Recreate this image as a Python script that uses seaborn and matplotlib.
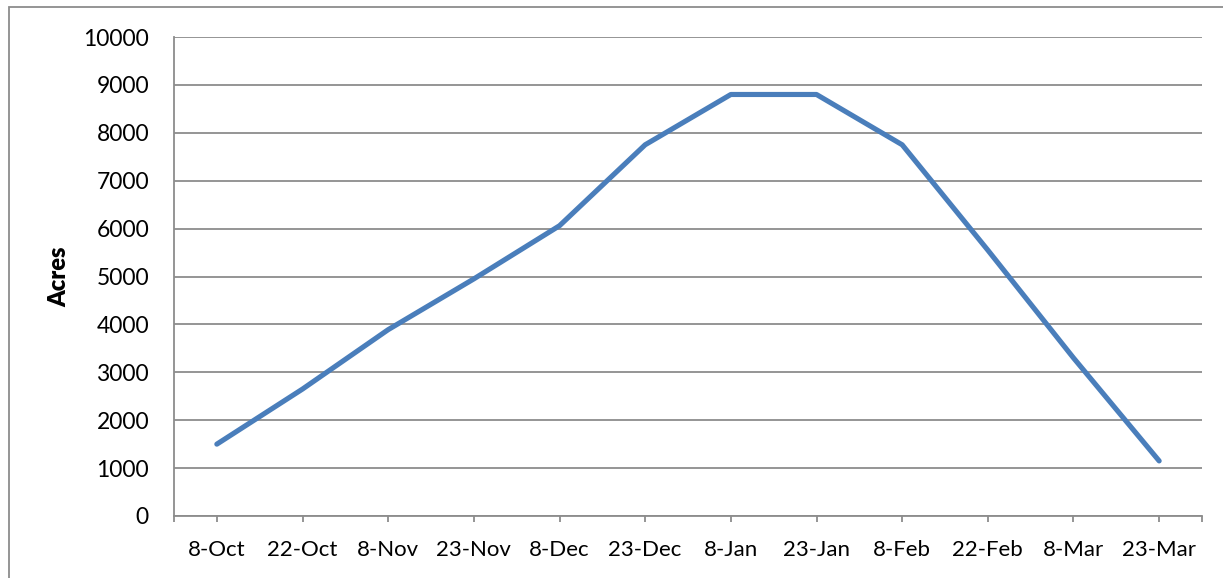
import numpy as np
import pandas as pd
import matplotlib
matplotlib.use("Agg")
import matplotlib.pyplot as plt
from matplotlib.patches import Rectangle
import seaborn as sns

dates = ["8-Oct", "22-Oct", "8-Nov", "23-Nov", "8-Dec", "23-Dec",
         "8-Jan", "23-Jan", "8-Feb", "22-Feb", "8-Mar", "23-Mar"]
acres = [1500, 2650, 3890, 4950, 6060, 7750, 8800, 8800, 7750, 5550, 3300, 1150]
y_ticks = list(range(0, 10001, 1000))

sns.set_theme(style="white")
plt.rcParams['font.family'] = ['Lato', 'DejaVu Sans']

W, H = 1223, 578
fig = plt.figure(figsize=(W / 100, H / 100), dpi=100)
ax = fig.add_axes([174 / W, 1 - 516 / H, (1202 - 174) / W, (516 - 37) / H])

df = pd.DataFrame({"date": dates, "acres": acres})
df["pos"] = np.arange(len(dates))
sns.lineplot(data=df, x="pos", y="acres", ax=ax, color="#4a7ebb", linewidth=3.7,
             solid_capstyle="round", solid_joinstyle="round")

gray = "#8c8c8c"
ax.set_xlim(-0.5, len(dates) - 0.5)
ax.set_ylim(0, 10000)
ax.set_yticks(y_ticks)
ax.set_yticklabels([str(v) for v in y_ticks])
ax.set_xticks(df["pos"])
ax.set_xticklabels(dates)
ax.set_xticks([-0.5, len(dates) - 0.5], minor=True)
ax.grid(axis="y", color=gray, linewidth=1.3)
ax.grid(axis="x", visible=False)
ax.set_axisbelow(True)
for s in ["top", "right"]:
    ax.spines[s].set_visible(False)
for s in ["left", "bottom"]:
    ax.spines[s].set_color(gray)
    ax.spines[s].set_linewidth(1.3)
ax.tick_params(axis="x", which="both", direction="out", length=4, width=1.3,
               color=gray, bottom=True, pad=13, labelsize=16, labelcolor="black")
ax.tick_params(axis="y", length=0, pad=18, labelsize=16.5, labelcolor="black")
ax.set_xlabel("")
ax.set_ylabel("Acres", fontsize=17, fontweight="heavy", color="black", labelpad=9)

fig.patches.append(Rectangle((8.5 / W, -0.1), 1.2, 1.1 - 7.5 / H, transform=fig.transFigure,
                             fill=False, edgecolor="#8c8c8c", linewidth=1.3))

fig.savefig("out.png", dpi=100, facecolor="white")
